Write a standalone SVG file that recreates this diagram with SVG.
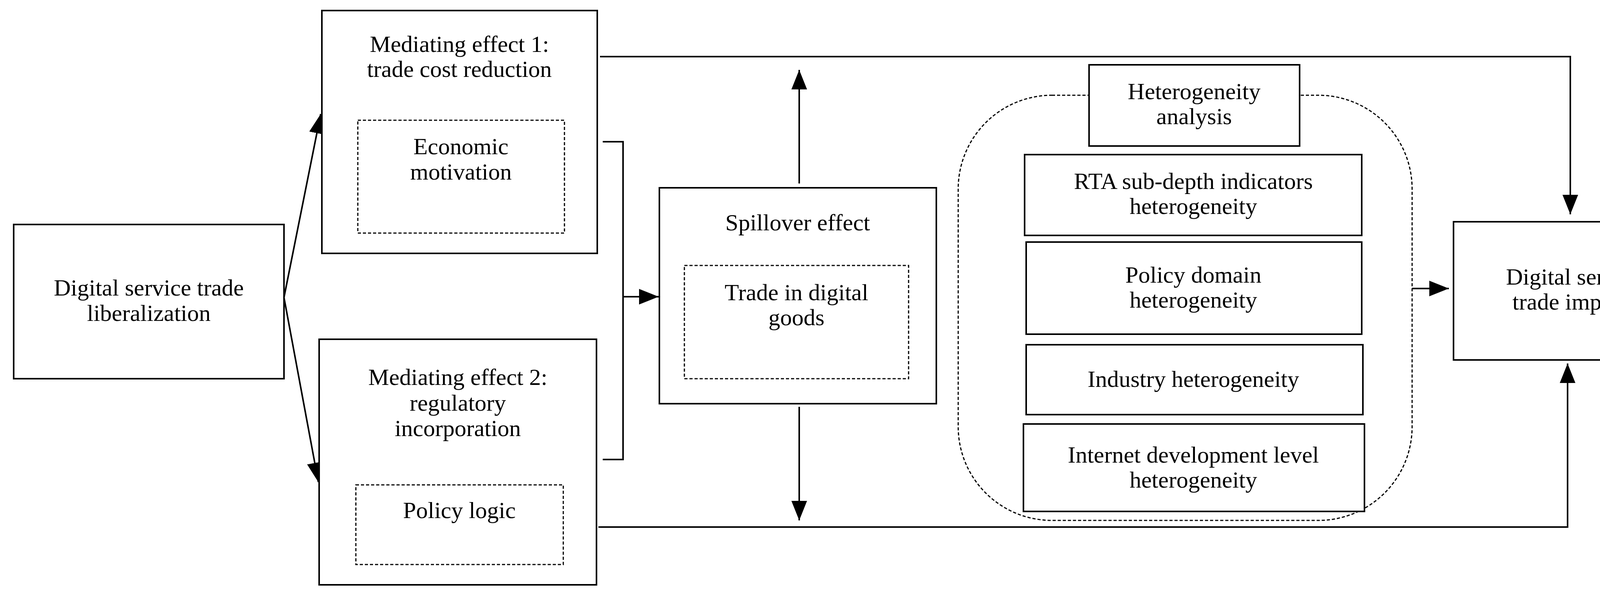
<svg xmlns="http://www.w3.org/2000/svg" width="4363" height="1542" viewBox="0 0 4363 1542">
<style>
.b{fill:#fff;stroke:#000;stroke-width:4}
.d{fill:none;stroke:#000;stroke-width:3;stroke-dasharray:8 5}
.l{fill:none;stroke:#000;stroke-width:4}
text{font-family:"Liberation Serif","DejaVu Serif",serif;font-size:60px;text-anchor:middle;fill:#000}
</style>
<defs>
<marker id="A" viewBox="0 0 50 40" refX="50" refY="20" markerWidth="50" markerHeight="40" orient="auto" markerUnits="userSpaceOnUse"><path d="M0,0L50,20L0,40z"/></marker></defs>
<g id="connectors">
<path class="l" d="M727,762L821,292" marker-end="url(#A)"/>
<path class="l" d="M727,762L815,1235" marker-end="url(#A)"/>
<path class="l" d="M1536,145H4020V549" marker-end="url(#A)"/>
<path class="l" d="M1532,1350H4013V931" marker-end="url(#A)"/>
<path class="l" d="M1543,363H1595V1177H1543"/>
<path class="l" d="M1595,760H1686" marker-end="url(#A)"/>
<path class="l" d="M2046,470V179" marker-end="url(#A)"/>
<path class="l" d="M2046,1042V1333" marker-end="url(#A)"/>
<path class="l" d="M3615,739H3709" marker-end="url(#A)"/>
</g>
<g id="n-left"><rect class="b" x="35" y="575" width="692" height="395"/><text x="381" y="757">Digital service trade</text><text x="381" y="822">liberalization</text></g>
<g id="n-med1"><rect class="b" x="824" y="27" width="705" height="622"/><text x="1176" y="133">Mediating effect 1:</text><text x="1176" y="197">trade cost reduction</text>
<rect class="d" x="916" y="308" width="529" height="289"/><text x="1180" y="395">Economic</text><text x="1180" y="460">motivation</text></g>
<g id="n-med2"><rect class="b" x="817" y="869" width="710" height="629"/><text x="1172" y="986">Mediating effect 2:</text><text x="1172" y="1052">regulatory</text><text x="1172" y="1117">incorporation</text>
<rect class="d" x="911" y="1242" width="531" height="204"/><text x="1176" y="1327">Policy logic</text></g>
<g id="n-spill"><rect class="b" x="1688" y="481" width="709" height="553"/><text x="2042" y="590">Spillover effect</text>
<rect class="d" x="1752" y="680" width="574" height="290"/><text x="2039" y="769">Trade in digital</text><text x="2039" y="833">goods</text></g>
<g id="n-het"><rect class="d" x="2453" y="244" width="1162" height="1089" rx="240" ry="240"/>
<rect class="b" x="2788" y="166" width="539" height="208"/><text x="3057" y="254">Heterogeneity</text><text x="3057" y="318">analysis</text>
<rect class="b" x="2623" y="396" width="863" height="207"/><text x="3055" y="484">RTA sub-depth indicators</text><text x="3055" y="548">heterogeneity</text>
<rect class="b" x="2627" y="620" width="859" height="236"/><text x="3055" y="724">Policy domain</text><text x="3055" y="788">heterogeneity</text>
<rect class="b" x="2627" y="883" width="862" height="179"/><text x="3055" y="991">Industry heterogeneity</text>
<rect class="b" x="2620" y="1086" width="873" height="224"/><text x="3055" y="1185">Internet development level</text><text x="3055" y="1249">heterogeneity</text></g>
<g id="n-imports"><rect class="b" x="3721" y="568" width="621" height="354"/><text x="4031" y="729">Digital service</text><text x="4031" y="793">trade imports</text></g>
</svg>
